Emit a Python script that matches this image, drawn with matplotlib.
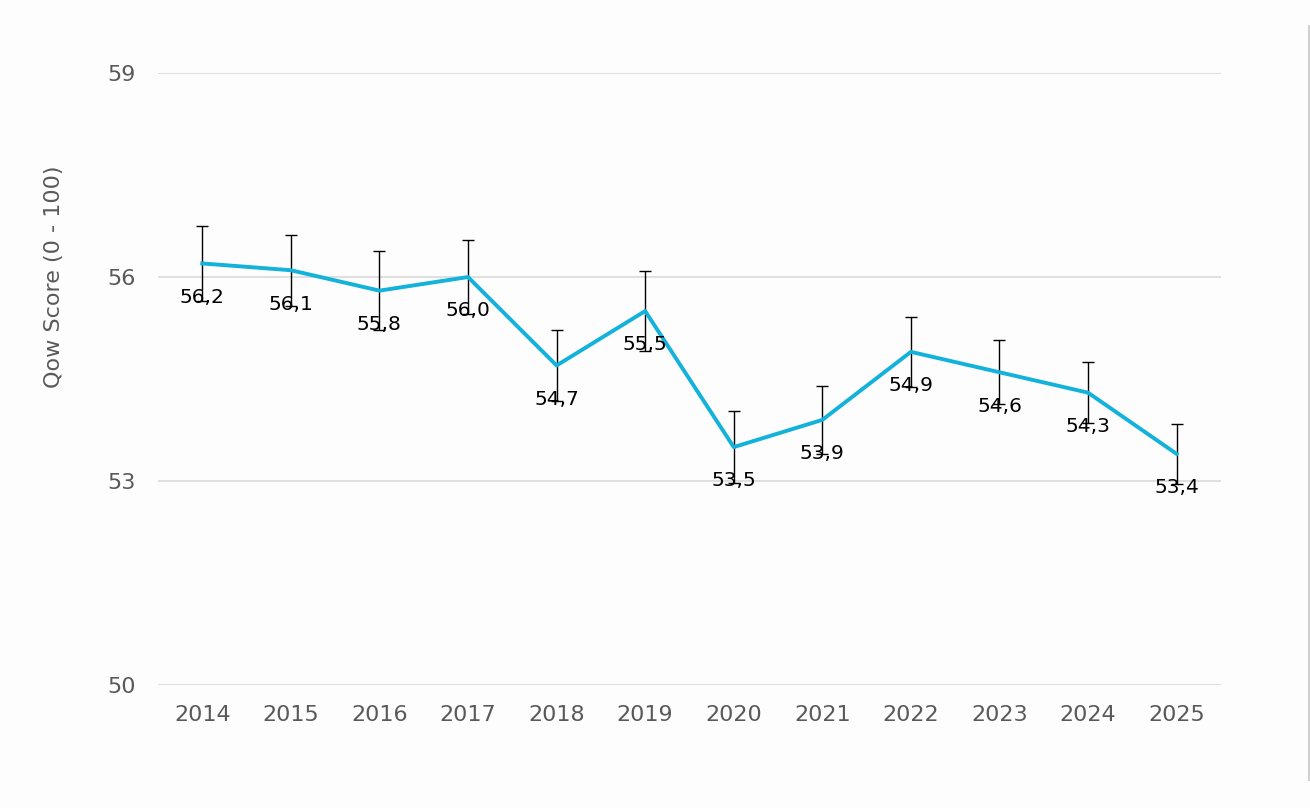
import matplotlib
matplotlib.use("Agg")
import matplotlib.pyplot as plt
from matplotlib.lines import Line2D

years = [2014, 2015, 2016, 2017, 2018, 2019, 2020, 2021, 2022, 2023, 2024, 2025]
scores = [56.2, 56.1, 55.8, 56.0, 54.7, 55.5, 53.5, 53.9, 54.9, 54.6, 54.3, 53.4]
errors = [0.55, 0.52, 0.58, 0.54, 0.52, 0.59, 0.53, 0.50, 0.51, 0.47, 0.45, 0.44]
y_ticks = [50, 53, 56, 59]

plt.rcParams['font.family'] = ['DejaVu Sans']
fig = plt.figure(figsize=(13.1, 8.08), dpi=100)
fig.patch.set_facecolor('#fdfdfd')
ax = fig.add_axes([0.1206, 0.152, 0.8114, 0.7577])
ax.set_facecolor('#fdfdfd')

ax.errorbar(years, scores, yerr=errors, fmt='none', ecolor='black',
            elinewidth=1, capsize=4.5, capthick=1, zorder=2)
ax.plot(years, scores, color='#12b2da', linewidth=2.8, zorder=3)

for x, y in zip(years, scores):
    ax.annotate(f"{y:.1f}".replace('.', ','), (x, y), xytext=(0, -17.5),
                textcoords='offset points', ha='center', va='top',
                fontsize=14.5, color='black', zorder=4)

ax.set_xlim(2013.5, 2025.5)
ax.set_ylim(50, 59)
ax.set_yticks(y_ticks)
ax.set_xticks(years)
ax.set_xticklabels([str(y) for y in years])
ax.grid(axis='y', color='#d9d9d9', linewidth=1.2)
ax.set_axisbelow(True)
for s in ax.spines.values():
    s.set_visible(False)
ax.tick_params(axis='both', length=0, labelsize=16, colors='#595959')
ax.tick_params(axis='x', pad=14)
ax.tick_params(axis='y', pad=16)
ax.set_ylabel('Qow Score (0 - 100)', fontsize=16, color='#595959')
ax.yaxis.set_label_coords(-0.0884, 0.667)

fig.add_artist(Line2D([1309/1310, 1309/1310], [1-26/808, 1-780/808],
                      transform=fig.transFigure, color='#d0d0d0', linewidth=1.5))

fig.savefig('out.png', dpi=100, facecolor=fig.get_facecolor())
